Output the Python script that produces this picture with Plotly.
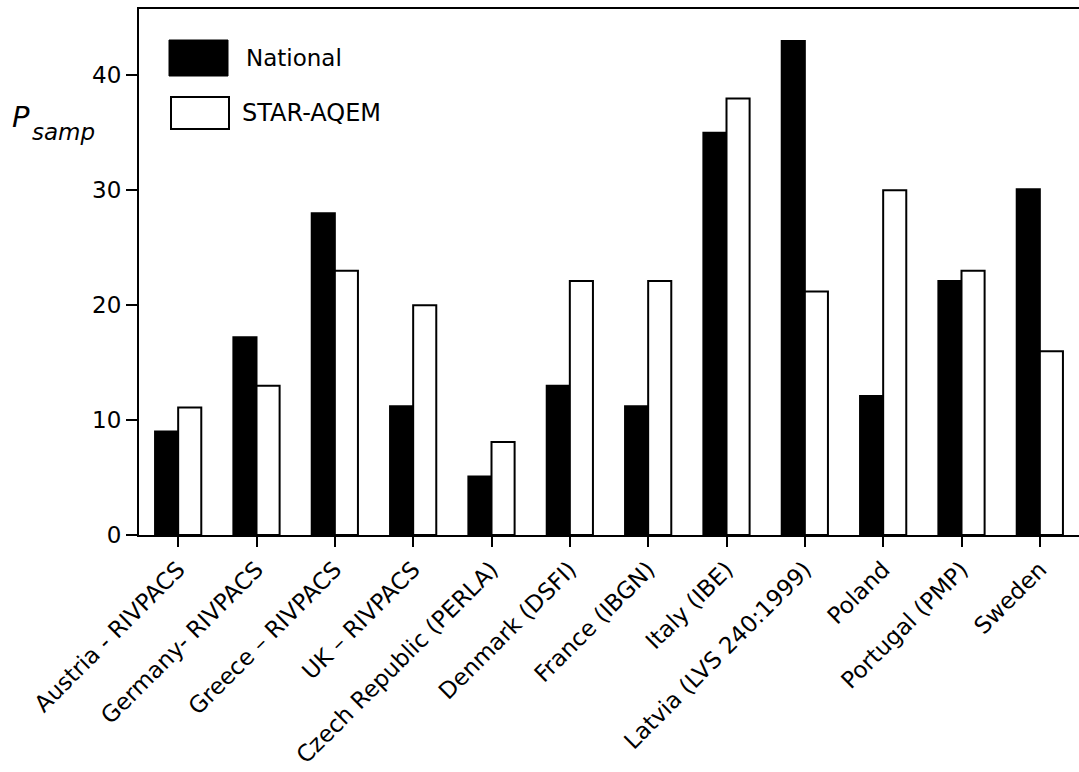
import plotly.graph_objects as go

# Sampling precision per assessment system
categories = [
    "Austria - RIVPACS",
    "Germany- RIVPACS",
    "Greece \u2013 RIVPACS",
    "UK \u2013 RIVPACS",
    "Czech Republic (PERLA)",
    "Denmark (DSFI)",
    "France (IBGN)",
    "Italy (IBE)",
    "Latvia (LVS 240:1999)",
    "Poland",
    "Portugal (PMP)",
    "Sweden",
]
national = [9, 17.2, 28, 11.2, 5.1, 13, 11.2, 35, 43, 12.1, 22.1, 30.1]
star_aqem = [11.1, 13, 23, 20, 8.1, 22.1, 22.1, 38, 21.2, 30, 23, 16]
y_ticks = [0, 10, 20, 30, 40]

W, H = 1079, 772
ML, MR, MT, MB = 139, 0, 9, 237
PW, PH = W - ML - MR, H - MT - MB

FONT = "DejaVu Sans"


def px(x):
    return (x - ML) / PW


def py(y):
    return (H - MB - y) / PH


fig = go.Figure()
fig.add_trace(go.Bar(
    x=list(range(len(categories))), y=national, name="National",
    marker=dict(color="black", line=dict(color="black", width=2)),
))
fig.add_trace(go.Bar(
    x=list(range(len(categories))), y=star_aqem, name="STAR-AQEM",
    marker=dict(color="white", line=dict(color="black", width=2)),
))

# Legend drawn as boxes with labels
fig.add_shape(type="rect", xref="paper", yref="paper",
              x0=px(169), x1=px(228), y0=py(76), y1=py(40),
              fillcolor="black", line=dict(color="black", width=1))
fig.add_shape(type="rect", xref="paper", yref="paper",
              x0=px(171), x1=px(229), y0=py(129), y1=py(97),
              fillcolor="white", line=dict(color="black", width=2))
fig.add_annotation(xref="paper", yref="paper", x=px(244), y=py(58),
                   text="National", showarrow=False, xanchor="left", yanchor="middle",
                   font=dict(family=FONT, size=23, color="black"))
fig.add_annotation(xref="paper", yref="paper", x=px(240), y=py(113),
                   text="STAR-AQEM", showarrow=False, xanchor="left", yanchor="middle",
                   font=dict(family=FONT, size=24, color="black"))

# Y axis title P_samp
fig.add_annotation(xref="paper", yref="paper", x=px(10), y=py(117),
                   text="<i>P</i>", showarrow=False, xanchor="left", yanchor="middle",
                   font=dict(family=FONT, size=29, color="black"))
fig.add_annotation(xref="paper", yref="paper", x=px(30), y=py(132),
                   text="<i>samp</i>", showarrow=False, xanchor="left", yanchor="middle",
                   font=dict(family=FONT, size=23, color="black"))

fig.update_layout(
    width=W, height=H,
    margin=dict(l=ML, r=MR, t=MT, b=MB, pad=0, autoexpand=False),
    paper_bgcolor="white", plot_bgcolor="white",
    barmode="group", bargap=0.41, bargroupgap=0,
    showlegend=False,
    font=dict(family=FONT, size=23, color="black"),
)
fig.update_xaxes(
    range=[-0.5, len(categories) - 0.5],
    tickmode="array", tickvals=list(range(len(categories))), ticktext=categories,
    tickangle=-45, tickfont=dict(family=FONT, size=23, color="black"),
    showline=True, linecolor="black", linewidth=2, mirror=True,
    ticks="outside", ticklen=10, tickwidth=2, tickcolor="black",
    showgrid=False, zeroline=False, automargin=False,
)
fig.update_yaxes(
    range=[0, PH / 11.49],
    tickmode="array", tickvals=y_ticks, ticktext=[str(v) for v in y_ticks],
    tickfont=dict(family=FONT, size=23, color="black"),
    showline=True, linecolor="black", linewidth=2,
    ticks="outside", ticklen=11, tickwidth=2, tickcolor="black",
    showgrid=False, zeroline=False, automargin=False,
)

fig.write_html("out.html")
